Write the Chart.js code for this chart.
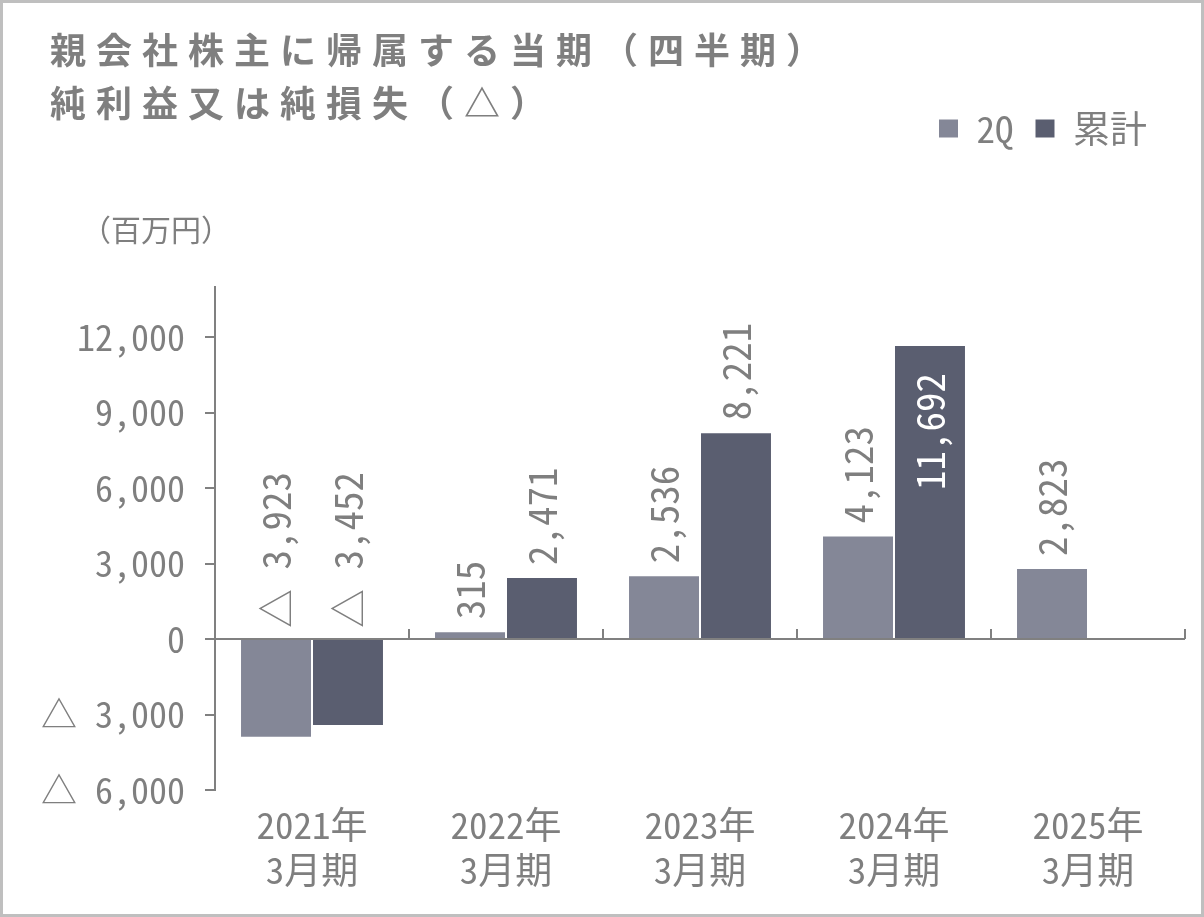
<!DOCTYPE html>
<html lang="ja">
<head>
<meta charset="utf-8">
<script src="https://cdn.jsdelivr.net/npm/chart.js@4"></script>
<style>
  html, body { margin: 0; padding: 0; background: #fff; }
  #frame {
    position: relative;
    width: 1204px; height: 917px;
    box-sizing: border-box;
    border: 3px solid #bfbfbf;
    background: #fff;
  }
  #chart { position: absolute; left: 0; top: 0; }
  .title {
    position: absolute; left: 47px; top: 19px;
    font-family: 'Noto Sans CJK JP', sans-serif;
    font-weight: 700; font-size: 36px; line-height: 53px;
    letter-spacing: 10px; color: #7f7f7f;
    white-space: nowrap;
  }
  .unit {
    position: absolute; left: 78px; top: 205px;
    font-family: 'Noto Sans CJK JP', sans-serif;
    font-size: 30px; line-height: 40px; color: #7f7f7f;
    white-space: nowrap;
  }
</style>
</head>
<body>
<div id="frame">
  <canvas id="chart" width="1198" height="911"></canvas>
  <div class="title">親会社株主に帰属する当期（四半期）<br>純利益又は純損失（△）</div>
  <div class="unit">（百万円）</div>
</div>
<script>
// ── data ──
const PERIODS    = [['2021年', '3月期'], ['2022年', '3月期'], ['2023年', '3月期'], ['2024年', '3月期'], ['2025年', '3月期']];
const Q2_VALUES  = [-3923, 315, 2536, 4123, 2823];
const CUM_VALUES = [-3452, 2471, 8221, 11692, null];
const Y_TICKS    = [-6000, -3000, 0, 3000, 6000, 9000, 12000];

const FONT       = "'Noto Sans Mono CJK JP', 'Noto Sans CJK JP', monospace";
const TEXT_COLOR = '#7f7f7f';
const AXIS_COLOR = '#808080';
const Q2_COLOR   = '#848797';
const CUM_COLOR  = '#5a5e70';

const fmt = v => (v < 0 ? '△ ' : '') + Math.abs(v).toLocaleString('en-US');

// zero line with small upward ticks at category boundaries
const zeroAxisPlugin = {
  id: 'zeroAxis',
  afterDatasetsDraw(chart) {
    const { ctx, chartArea: { left, right }, scales: { x, y } } = chart;
    const y0 = y.getPixelForValue(0);
    ctx.save();
    ctx.strokeStyle = AXIS_COLOR;
    ctx.lineWidth = 2;
    ctx.beginPath();
    ctx.moveTo(left, y0);
    ctx.lineTo(right, y0);
    for (let i = 0; i < PERIODS.length; i++) {
      const bx = x.getPixelForValue(i + 0.5);
      ctx.moveTo(bx, y0);
      ctx.lineTo(bx, y0 - 10);
    }
    ctx.stroke();
    ctx.restore();
  }
};

// rotated value labels
const valueLabelPlugin = {
  id: 'valueLabels',
  afterDatasetsDraw(chart) {
    const { ctx, chartArea, scales: { y } } = chart;
    const y0 = y.getPixelForValue(0);
    ctx.save();
    ctx.font = `39px ${FONT}`;
    ctx.textBaseline = 'middle';
    chart.data.datasets.forEach((ds, di) => {
      const meta = chart.getDatasetMeta(di);
      meta.data.forEach((bar, i) => {
        const v = ds.data[i];
        if (v == null) return;
        const text = fmt(v);
        const w = ctx.measureText(text).width;
        ctx.save();
        ctx.translate(bar.x, 0);
        ctx.rotate(-Math.PI / 2);
        if (v < 0) {
          ctx.fillStyle = TEXT_COLOR;
          ctx.textAlign = 'left';
          ctx.fillText(text, -(y0 - 11), 0);
        } else if (bar.y - 12 - w < chartArea.top) {
          ctx.fillStyle = '#ffffff';
          ctx.textAlign = 'right';
          ctx.fillText(text, -(bar.y + 28), 0);
        } else {
          ctx.fillStyle = TEXT_COLOR;
          ctx.textAlign = 'left';
          ctx.fillText(text, -(bar.y - 12), 0);
        }
        ctx.restore();
      });
    });
    ctx.restore();
  }
};

new Chart(document.getElementById('chart'), {
  type: 'bar',
  data: {
    labels: PERIODS,
    datasets: [
      { label: '2Q',  data: Q2_VALUES,  backgroundColor: Q2_COLOR,  borderColor: '#ffffff', borderWidth: 1 },
      { label: '累計', data: CUM_VALUES, backgroundColor: CUM_COLOR, borderColor: '#ffffff', borderWidth: 1 }
    ]
  },
  options: {
    responsive: false,
    animation: false,
    layout: { padding: { top: 85, right: 16, bottom: 0, left: 0 } },
    datasets: { bar: { barPercentage: 1, categoryPercentage: 0.742 } },
    plugins: {
      title: { display: false },
      tooltip: { enabled: false },
      legend: {
        position: 'top',
        align: 'end',
        labels: {
          font: { family: FONT, size: 37 },
          color: TEXT_COLOR,
          boxWidth: 19,
          boxHeight: 18,
          padding: 22,
          generateLabels(chart) {
            return chart.data.datasets.map((ds, i) => ({
              text: ds.label,
              fillStyle: ds.backgroundColor,
              strokeStyle: ds.backgroundColor,
              lineWidth: 0,
              fontColor: TEXT_COLOR,
              hidden: !chart.isDatasetVisible(i),
              datasetIndex: i
            }));
          }
        }
      }
    },
    scales: {
      x: {
        grid: { display: false },
        border: { display: false },
        ticks: {
          font: { family: FONT, size: 37, lineHeight: 1.22 },
          color: TEXT_COLOR,
          padding: 4,
          maxRotation: 0,
          autoSkip: false
        },
        afterFit(scale) { scale.height = 124; }
      },
      y: {
        min: -6000,
        max: 14000,
        grid: { drawOnChartArea: false, drawTicks: true, tickLength: 10, color: AXIS_COLOR, lineWidth: 2 },
        border: { display: true, color: AXIS_COLOR, width: 2 },
        ticks: {
          font: { family: FONT, size: 36 },
          color: TEXT_COLOR,
          padding: 20,
          callback: v => fmt(v)
        },
        afterBuildTicks(scale) { scale.ticks = Y_TICKS.map(v => ({ value: v })); },
        afterFit(scale) { scale.width = 212; }
      }
    }
  },
  plugins: [
    {
      id: 'legendSpace',
      afterInit(chart) {
        const legend = chart.legend;
        const fit = legend.fit;
        legend.fit = function () {
          fit.call(this);
          this.height = 199;
        };
        const draw = legend.draw;
        legend.draw = function () {
          const r = this.right;
          this.right = r - 16;
          draw.call(this);
          this.right = r;
        };
      }
    },
    zeroAxisPlugin,
    valueLabelPlugin
  ]
});
</script>
</body>
</html>
